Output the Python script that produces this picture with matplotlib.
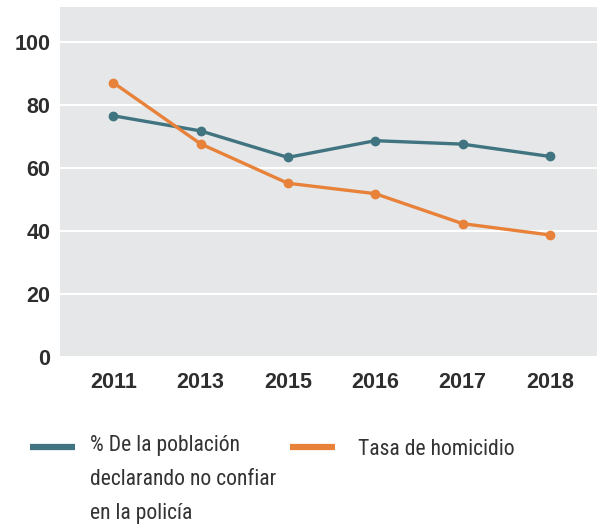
import matplotlib
matplotlib.use('Agg')
import matplotlib.pyplot as plt
from matplotlib.lines import Line2D
import numpy as np

# Data
years = ['2011', '2013', '2015', '2016', '2017', '2018']
no_confia = [76.5, 71.7, 63.3, 68.6, 67.5, 63.6]
homicidio = [87.0, 67.6, 55.1, 51.8, 42.3, 38.7]
labels = ['% De la población\ndeclarando no confiar\nen la policía', 'Tasa de homicidio']
colors = ['#3f7480', '#e8823a']

fig = plt.figure(figsize=(5.97, 5.25), dpi=100)
ax = fig.add_axes([0.1005, 0.32, 0.8995, 0.6667])
ax.set_facecolor('#e5e7e8')

x = np.arange(len(years))
ax.plot(x, no_confia, color=colors[0], lw=2.4, marker='o', markersize=6, zorder=3)
ax.plot(x, homicidio, color=colors[1], lw=2.4, marker='o', markersize=6, zorder=3)

ax.set_ylim(0, 111)
ax.set_xlim(-0.61, 5.54)
ax.set_yticks([0, 20, 40, 60, 80, 100])
ax.set_xticks(x)
ax.set_xticklabels(years)
ax.yaxis.grid(True, color='white', lw=1.5)
ax.set_axisbelow(True)
for s in ax.spines.values():
    s.set_visible(False)
ax.tick_params(length=0, labelsize=15.5, labelcolor='#2e2e2e')
ax.tick_params(axis='x', pad=11)
ax.tick_params(axis='y', pad=7)
for t in ax.get_xticklabels() + ax.get_yticklabels():
    t.set_fontweight('bold')
    t.set_family(['Liberation Sans', 'DejaVu Sans'])

# legend drawn by hand to match the layout
W, H = 597, 525
fam = ['Roboto Condensed', 'DejaVu Sans']
# (handle x, text x, baseline of last text line)
spots = [(30, 90, 519), (290, 358, 455)]
for (x0, tx, yb), lab, c in zip(spots, labels, colors):
    fig.add_artist(Line2D([x0 / W, (x0 + 45) / W], [1 - 446.5 / H, 1 - 446.5 / H],
                          color=c, lw=4.5, solid_capstyle='butt'))
    fig.text(tx / W, 1 - yb / H, lab, family=fam, fontsize=15.6, color='#333333',
             va='baseline', ha='left', linespacing=1.82)

plt.savefig('out.png', dpi=100)
